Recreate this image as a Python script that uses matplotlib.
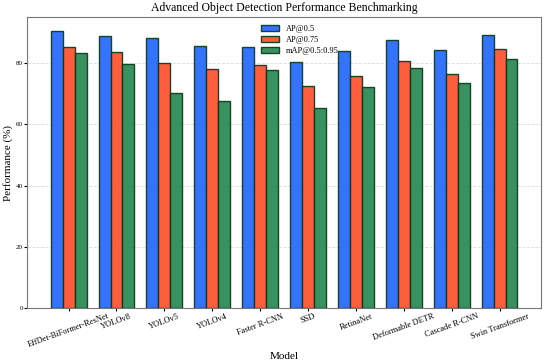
import matplotlib
matplotlib.use("Agg")
import matplotlib.pyplot as plt
import numpy as np

plt.rcParams["font.family"] = ["Liberation Serif", "DejaVu Serif"]

# 数据
models = ["EffDet-BiFormer-ResNet", "YOLOv8", "YOLOv5", "YOLOv4", "Faster R-CNN",
          "SSD", "RetinaNet", "Deformable DETR", "Cascade R-CNN", "Swin Transformer"]
ap50 = [90.5, 88.8, 88.1, 85.7, 85.1, 80.3, 83.9, 87.5, 84.2, 89.1]
ap75 = [85.3, 83.6, 80.0, 78.1, 79.3, 72.4, 75.8, 80.7, 76.3, 84.5]
map_5095 = [83.2, 79.8, 70.2, 67.6, 77.8, 65.3, 72.0, 78.3, 73.5, 81.2]

series = [("AP@0.5", ap50, "#2a6bff"),
          ("AP@0.75", ap75, "#ff5533"),
          ("mAP@0.5:0.95", map_5095, "#2e8b57")]

fig = plt.figure(figsize=(5.5, 3.62), dpi=100)
ax = fig.add_axes([0.049, 0.149, 0.935, 0.804])

x = np.arange(len(models))
width = 0.25
for i, (name, vals, color) in enumerate(series):
    ax.bar(x + (i - 1) * width, vals, width, label=name, color=color,
           edgecolor="#0b3d1f", linewidth=1.0, alpha=0.95, zorder=3)

ax.set_xlim(-0.87, len(models) - 1 + 0.87)
ax.set_ylim(0, 95)
ax.set_yticks([0, 20, 40, 60, 80])
ax.set_xticks(x)
ax.set_xticklabels(models, rotation=20, ha="center", fontsize=6)
ax.tick_params(axis="y", labelsize=5, length=2, pad=1)
ax.tick_params(axis="x", length=2, pad=1)
ax.grid(axis="y", linestyle="--", color="#dddddd", linewidth=0.6, zorder=0)
for s in ax.spines.values():
    s.set_color("#777777")

ax.set_title("Advanced Object Detection Performance Benchmarking", fontsize=8.5, pad=4)
ax.set_xlabel("Model", fontsize=8, labelpad=2)
ax.set_ylabel("Performance (%)", fontsize=8, labelpad=2)
ax.legend(loc="upper center", frameon=False, fontsize=6, handlelength=2.2,
          labelspacing=0.4, bbox_to_anchor=(0.53, 1.0))

fig.savefig("out.png", dpi=100)
